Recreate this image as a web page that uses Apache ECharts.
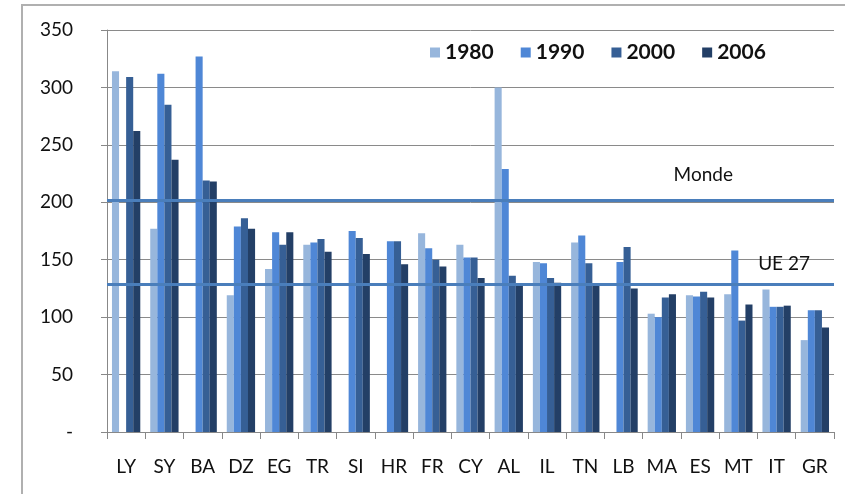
<!DOCTYPE html>
<html>
<head>
<meta charset="utf-8">
<script src="https://cdn.jsdelivr.net/npm/echarts@6/dist/echarts.min.js"></script>
<style>
html,body{margin:0;padding:0;background:#fff;}
#frame{position:absolute;left:21px;top:4px;width:830px;height:500px;border-left:2px solid #b0b0b0;border-top:2px solid #b0b0b0;}
#c{position:absolute;left:0;top:0;width:845px;height:494px;}
</style>
</head>
<body>
<div id="frame"></div>
<div id="c"></div>
<script>
const categories = ['LY','SY','BA','DZ','EG','TR','SI','HR','FR','CY','AL','IL','TN','LB','MA','ES','MT','IT','GR'];
const seriesNames = ['1980','1990','2000','2006'];
const v1980 = [314, 177, 0, 119, 142, 163, 0, 0, 173, 163, 300, 148, 165, 0, 103, 119, 120, 124, 80];
const v1990 = [0, 312, 327, 179, 174, 165, 175, 166, 160, 152, 229, 147, 171, 148, 100, 118, 158, 109, 106];
const v2000 = [309, 285, 219, 186, 163, 168, 169, 166, 150, 152, 136, 134, 147, 161, 117, 122, 97, 109, 106];
const v2006 = [262, 237, 218, 177, 174, 157, 155, 146, 144, 134, 128, 130, 129, 125, 120, 117, 111, 110, 91];
const mondeValue = 202;
const ue27Value = 129;
const colors = ['#97b6dc', '#4f87d6', '#365f95', '#233f66'];

const chart = echarts.init(document.getElementById('c'));
const values = [v1980, v1990, v2000, v2006];
const series = seriesNames.map((n, i) => ({
  name: n,
  type: 'bar',
  data: values[i],
  barGap: '0%',
  barCategoryGap: '26%',
  itemStyle: { color: colors[i] }
}));
series.push({
  name: 'refs',
  type: 'line',
  data: [],
  markLine: {
    silent: true,
    symbol: 'none',
    z: 10,
    lineStyle: { color: '#4a7ebb', width: 3, type: 'solid' },
    data: [
      { yAxis: mondeValue, label: { show: true, formatter: 'Monde', position: 'insideEndTop', offset: [-96, -11], color: '#111', fontSize: 19, fontFamily: 'Lato' } },
      { yAxis: ue27Value, label: { show: true, formatter: 'UE 27', position: 'insideEndTop', offset: [-19, -5], color: '#111', fontSize: 19, fontFamily: 'Lato' } }
    ]
  }
});

chart.setOption({
  animation: false,
  backgroundColor: 'transparent',
  grid: { left: 107, right: 11, top: 30, bottom: 62 },
  legend: {
    data: seriesNames,
    left: 425,
    top: 37,
    icon: 'rect',
    itemWidth: 10,
    itemHeight: 10,
    itemGap: 27,
    textStyle: { fontSize: 21, fontWeight: 'bold', color: '#111', fontFamily: 'Lato' }
  },
  xAxis: {
    type: 'category',
    data: categories,
    axisLine: { lineStyle: { color: '#888', width: 1 } },
    axisTick: { show: true, interval: 0, length: 7, lineStyle: { color: '#888' } },
    axisLabel: { interval: 0, margin: 25, fontSize: 19, color: '#111', fontFamily: 'Lato' }
  },
  yAxis: {
    type: 'value',
    min: 0,
    max: 350,
    interval: 50,
    axisLine: { show: true, lineStyle: { color: '#888', width: 1 } },
    axisTick: { show: true, length: 6, lineStyle: { color: '#888' } },
    splitLine: { lineStyle: { color: '#8a8a8a', width: 1 } },
    axisLabel: { margin: 34, fontSize: 19, color: '#111', fontFamily: 'Lato', formatter: v => v === 0 ? '-' : String(v) }
  },
  series: series
});
</script>
</body>
</html>
